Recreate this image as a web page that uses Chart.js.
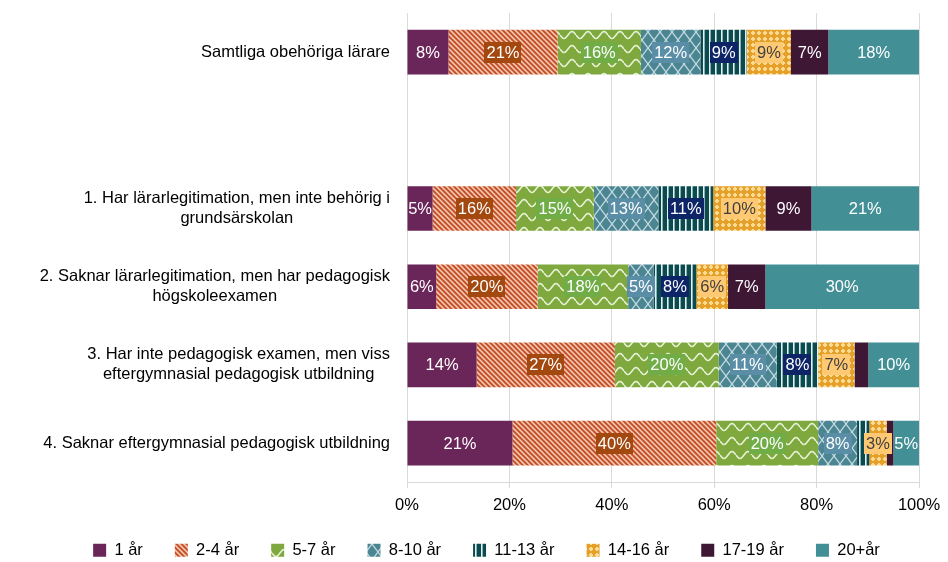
<!DOCTYPE html>
<html>
<head>
<meta charset="utf-8">
<script src="https://cdn.jsdelivr.net/npm/chart.js@4.4.0/dist/chart.umd.min.js"></script>
<style>
  html, body { margin: 0; padding: 0; background: #fff; }
  #wrap { width: 948px; height: 562px; }
</style>
</head>
<body>
<div id="wrap"><canvas id="chartAr" width="948" height="562"></canvas></div>
<script>
// kategorier (rad 2 är tom med flit, ger luft under "Samtliga")
const kategorier = [
  ['Samtliga obehöriga lärare'],
  [''],
  ['1. Har lärarlegitimation, men inte behörig i', 'grundsärskolan'],
  ['2. Saknar lärarlegitimation, men har pedagogisk', 'högskoleexamen'],
  ['3. Har inte pedagogisk examen, men viss', 'eftergymnasial pedagogisk utbildning'],
  ['4. Saknar eftergymnasial pedagogisk utbildning']
];

const serier = ['1 år', '2-4 år', '5-7 år', '8-10 år', '11-13 år', '14-16 år', '17-19 år', '20+år'];

// andelar i procent, en lista per serie
const v1 = [8.1, null, 5.0, 5.7, 13.6, 20.6];
const v2_4 = [21.3, null, 16.3, 19.8, 27.0, 39.8];
const v5_7 = [16.3, null, 15.2, 17.7, 20.3, 19.9];
const v8_10 = [11.6, null, 12.6, 5.0, 11.3, 7.6];
const v11_13 = [9.1, null, 10.7, 8.3, 8.1, 2.4];
const v14_16 = [8.6, null, 10.2, 6.2, 7.1, 3.4];
const v17_19 = [7.3, null, 9.0, 7.3, 2.7, 1.3];
const v20 = [17.7, null, 21.0, 30.0, 9.9, 5.0];

const xTicks = [0, 20, 40, 60, 80, 100];

const FONT = '"Liberation Sans", Arial, sans-serif';
const FSIZE = 16.5;

const canvas = document.getElementById('chartAr');
const ctx = canvas.getContext('2d');

// ---------- mönster ----------
function monster(bg, w, h, rita) {
  const c = document.createElement('canvas');
  c.width = w; c.height = h;
  const x = c.getContext('2d');
  x.fillStyle = bg;
  x.fillRect(0, 0, w, h);
  rita(x, w, h);
  return ctx.createPattern(c, 'repeat');
}

const pDiagonal = monster('#C4522A', 5, 5, (x, w, h) => {
  x.strokeStyle = 'rgba(252,215,195,0.95)';
  x.lineWidth = 1.5;
  x.beginPath();
  for (let o = -w; o <= w; o += w) {
    x.moveTo(o - 1, -1);
    x.lineTo(o + w + 1, h + 1);
  }
  x.stroke();
});

const pVag = monster('#7FA83E', 16, 14, (x, w, h) => {
  x.strokeStyle = 'rgba(235,245,220,0.95)';
  x.lineWidth = 1.6;
  x.beginPath();
  for (let i = 0; i <= w; i++) {
    const y = 7 + 3.5 * Math.sin(i / w * Math.PI * 2);
    if (i === 0) x.moveTo(i, y); else x.lineTo(i, y);
  }
  x.stroke();
});

const pGaller = monster('#4C8592', 12, 16, (x, w, h) => {
  x.strokeStyle = 'rgba(225,240,245,0.8)';
  x.lineWidth = 1.3;
  x.beginPath();
  x.moveTo(0, 0); x.lineTo(w, h);
  x.moveTo(w, 0); x.lineTo(0, h);
  x.stroke();
});

const pStreck = monster('#0B4B50', 6, 4, (x, w, h) => {
  x.fillStyle = 'rgba(240,250,250,0.95)';
  x.fillRect(1, 0, 1.6, h);
});

const pPrick = monster('#E4A028', 6, 6, (x, w, h) => {
  x.fillStyle = 'rgba(252,220,150,0.95)';
  x.fillRect(2, 1, 2, 4);
  x.fillRect(1, 2, 4, 2);
});

const fyllning = ['#6A2559', pDiagonal, pVag, pGaller, pStreck, pPrick, '#3E1734', '#428F96'];
const etikettBg = [null, '#A3480F', '#70AD47', '#5A8DA6', '#0D2566', '#FFC973', null, null];
const etikettFarg = ['#fff', '#fff', '#fff', '#fff', '#fff', '#404040', '#fff', '#fff'];

const allaVarden = [v1, v2_4, v5_7, v8_10, v11_13, v14_16, v17_19, v20];

// ---------- etiketter i staplarna ----------
const stapelEtiketter = {
  id: 'stapelEtiketter',
  afterDatasetsDraw(chart) {
    const c = chart.ctx;
    c.save();
    c.font = FSIZE + 'px ' + FONT;
    c.textAlign = 'center';
    c.textBaseline = 'middle';
    chart.data.datasets.forEach((ds, i) => {
      chart.getDatasetMeta(i).data.forEach((bar, j) => {
        const v = ds.data[j];
        if (v == null || v < 3) return;
        const txt = Math.round(v) + '%';
        const x = (bar.x + bar.base) / 2;
        const y = bar.y;
        const w = c.measureText(txt).width;
        if (etikettBg[i]) {
          c.fillStyle = etikettBg[i];
          c.fillRect(Math.round(x - w / 2 - 2), Math.round(y - 10.5), Math.round(w + 4), 21);
        }
        c.fillStyle = etikettFarg[i];
        c.fillText(txt, x, y + 1);
      });
    });
    c.restore();
  }
};

// ---------- kategorinamn till vänster ----------
const kategoriText = {
  id: 'kategoriText',
  afterDraw(chart) {
    const c = chart.ctx;
    const ys = chart.scales.y;
    const hoger = chart.chartArea.left - 17;
    c.save();
    c.font = FSIZE + 'px ' + FONT;
    c.fillStyle = '#000';
    c.textAlign = 'center';
    c.textBaseline = 'middle';
    kategorier.forEach((rader, i) => {
      const cy = ys.getPixelForValue(i);
      const bredd = Math.max(...rader.map(r => c.measureText(r).width));
      const cx = hoger - bredd / 2;
      rader.forEach((r, k) => {
        c.fillText(r, cx, cy + (k - (rader.length - 1) / 2) * 20);
      });
    });
    c.restore();
  }
};

// ---------- legendens plats ----------
const legendPlats = {
  id: 'legendPlats',
  beforeLayout(chart) {
    const lg = chart.legend;
    if (lg && !lg._lapp) {
      const orig = lg.fit;
      lg.fit = function () { orig.call(this); this.height = 40; };
      lg._lapp = true;
    }
  },
  afterLayout(chart) {
    const lg = chart.legend;
    lg.top = 510; lg.bottom = 562; lg.height = 52;
    lg.left += 27; lg.right += 27;
  }
};

new Chart(ctx, {
  type: 'bar',
  data: {
    labels: kategorier,
    datasets: serier.map((namn, i) => ({
      label: namn,
      data: allaVarden[i],
      backgroundColor: fyllning[i],
      borderWidth: 0,
      categoryPercentage: 1,
      barPercentage: 0.57
    }))
  },
  options: {
    indexAxis: 'y',
    responsive: false,
    animation: false,
    devicePixelRatio: 1,
    layout: { padding: { left: 0, right: 29, top: 13, bottom: 0 } },
    scales: {
      x: {
        stacked: true,
        min: 0,
        max: 100,
        afterBuildTicks: s => { s.ticks = xTicks.map(v => ({ value: v })); },
        ticks: {
          callback: v => v + '%',
          font: { size: FSIZE, family: FONT },
          color: '#000',
          padding: 7
        },
        grid: { color: '#D9D9D9', tickLength: 6, lineWidth: 1 },
        border: { display: true, color: '#D9D9D9' }
      },
      y: {
        stacked: true,
        ticks: { display: false },
        grid: { display: false },
        border: { display: false },
        afterFit: s => { s.width = 407; }
      }
    },
    plugins: {
      tooltip: { enabled: false },
      legend: {
        position: 'bottom',
        labels: {
          boxWidth: 13,
          boxHeight: 13,
          padding: 32,
          color: '#000',
          font: { size: FSIZE, family: FONT }
        }
      }
    }
  },
  plugins: [stapelEtiketter, kategoriText, legendPlats]
});
</script>
</body>
</html>
